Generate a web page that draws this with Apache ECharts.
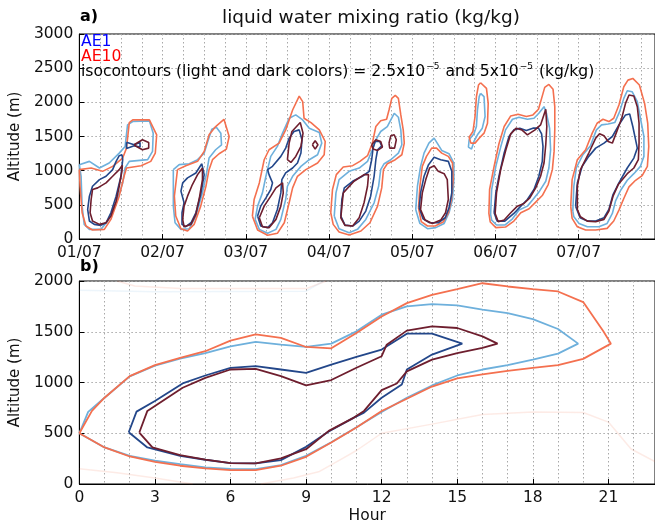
<!DOCTYPE html>
<html>
<head>
<meta charset="utf-8">
<script src="https://cdn.jsdelivr.net/npm/echarts@6/dist/echarts.min.js"></script>
<style>
html,body{margin:0;padding:0;background:#fff;}
#chart{width:655px;height:525px;}
</style>
</head>
<body>
<div id="chart"></div>
<script>
// ---------- tick labels ----------
var dayLabels = ['01/07','02/07','03/07','04/07','05/07','06/07','07/07'];
var hourLabels = ['0','3','6','9','12','15','18','21'];
var altLabels = ['0','500','1000','1500','2000','2500','3000'];

// ---------- top panel (x = hours since 01/07 00:00, y = altitude m) ----------
var topAE1Light = [
  [[0,1088],[2.9,1136],[5.8,1039],[8.6,1112],[11.5,1257],[13.2,1355],[13.9,1670],[15.4,1719],[20.2,1729],[21.3,1549],[21.1,1282],[19.7,1161],[14.4,1136],[13.2,1039],[12.5,821],[10.6,530],[8.2,263],[6.2,141],[2.9,141],[1.4,214],[0.8,481],[0.5,918]],
  [[27.1,1015],[28.8,1088],[31.7,1102],[34.1,1161],[36.0,1257],[37.2,1451],[38.2,1607],[39.5,1636],[40.8,1549],[41.0,1379],[39.3,1306],[37.4,1185],[36.7,966],[35.5,675],[33.6,336],[31.7,151],[29.3,141],[27.6,238],[27.1,481]],
  [[50.7,287],[51.4,481],[52.8,675],[53.8,918],[55.2,1209],[57.1,1355],[58.6,1549],[60.5,1767],[62.4,1816],[64.4,1743],[66.3,1622],[69.2,1558],[69.9,1403],[68.7,1233],[66.3,1160],[63.9,1063],[61.5,918],[60.0,772],[59.5,578],[58.1,287],[56.7,141],[54.3,83],[51.9,141]],
  [[73.5,335],[74.0,675],[74.9,869],[77.8,990],[80.7,1039],[83.1,1136],[84.5,1306],[85.5,1452],[86.9,1573],[88.8,1646],[90.8,1840],[92.0,1782],[92.7,1597],[93.0,1379],[92.0,1257],[89.8,1160],[87.9,1102],[86.9,1015],[86.3,772],[85.0,530],[82.6,287],[80.2,141],[77.8,93],[74.9,151]],
  [[97.0,432],[97.5,772],[98.4,1063],[99.4,1257],[100.8,1403],[102.3,1476],[103.2,1403],[104.5,1296],[106.6,1248],[108.0,1112],[108.0,869],[107.6,578],[106.6,384],[105.2,228],[102.8,166],[100.4,151],[98.2,228]],
  [[115.7,2131],[116.7,2083],[117.0,1792],[116.2,1622],[114.8,1525],[113.8,1427],[113.1,1316],[112.2,1345],[112.4,1452],[113.8,1539],[114.5,1646],[114.8,1888],[115.3,2083]],
  [[118.6,359],[118.9,724],[120.1,1063],[121.5,1345],[122.9,1597],[124.9,1752],[126.8,1782],[129.2,1752],[131.1,1767],[132.5,1840],[134.0,1937],[134.7,1840],[135.6,1622],[135.9,1306],[135.4,1039],[134.5,845],[132.7,700],[130.8,578],[129.2,481],[126.8,423],[124.9,296],[122.7,204],[120.3,204],[118.9,277]],
  [[142.3,408],[142.6,772],[143.3,1039],[145.2,1233],[147.4,1364],[149.1,1597],[150.6,1670],[152.5,1684],[154.4,1704],[155.8,1864],[157.0,2058],[158.0,2170],[159.4,2155],[160.9,2010],[161.8,1767],[162.8,1500],[162.8,1209],[161.8,1063],[159.9,956],[158.0,859],[156.1,713],[154.6,553],[153.7,374],[152.2,228],[149.8,180],[146.5,180],[144.1,228],[142.6,325]]
];
var topAE10Light = [
  [[0,1015],[3.4,1039],[6.7,990],[9.6,1063],[12.5,1185],[13.6,1330],[14.4,1704],[15.4,1743],[20.2,1743],[22.3,1525],[21.9,1257],[20.6,1136],[17.8,1073],[13.6,1039],[12.9,918],[11.5,627],[9.1,287],[7.2,141],[3.8,132],[1.9,190],[0.8,384],[0.2,772]],
  [[28.3,1015],[30.7,1073],[34.1,1136],[36.0,1282],[37.4,1524],[39.3,1646],[41.7,1752],[43.2,1500],[42.4,1316],[40.3,1248],[38.4,1161],[37.4,1015],[36.5,772],[35.0,481],[33.1,214],[31.2,117],[29.3,151],[27.8,336],[27.4,627]],
  [[49.9,335],[50.4,578],[51.9,821],[53.3,1160],[54.7,1306],[57.6,1403],[59.5,1597],[61.5,1888],[63.4,2092],[64.4,2010],[64.8,1767],[66.8,1704],[69.2,1597],[70.9,1427],[70.6,1233],[68.7,1112],[65.3,1015],[62.9,918],[61.5,748],[60.5,530],[59.1,238],[57.1,83],[54.3,54],[51.4,132]],
  [[72.5,384],[73.0,724],[74.1,942],[76.1,1053],[78.8,1073],[80.9,1136],[83.1,1219],[84.5,1403],[85.5,1646],[86.9,1729],[88.6,1752],[89.3,1888],[90.1,2058],[91.1,2102],[92.0,2058],[92.7,1816],[93.4,1597],[93.7,1403],[93.0,1233],[91.1,1160],[88.8,1102],[87.7,1015],[87.2,748],[86.0,481],[83.8,238],[81.2,117],[77.8,58],[74.9,102],[73.2,214]],
  [[97.8,456],[98.2,772],[98.9,1063],[100.1,1209],[101.6,1330],[103.0,1330],[104.5,1257],[106.4,1209],[107.6,1112],[107.8,869],[107.3,578],[106.4,384],[104.9,248],[102.6,190],[100.4,190],[98.6,253]],
  [[115.7,2287],[117.4,2204],[117.9,1986],[117.7,1694],[116.7,1549],[115.3,1476],[114.1,1403],[112.9,1403],[112.4,1490],[113.5,1573],[114.1,1792],[114.5,2083],[115.1,2253]],
  [[118.1,374],[118.3,724],[119.6,1063],[121.0,1394],[122.5,1646],[124.4,1801],[126.5,1825],[128.9,1792],[130.8,1816],[132.4,1898],[133.3,2058],[134.2,2219],[135.4,2262],[136.6,2190],[137.1,1937],[137.1,1598],[136.9,1282],[136.4,1015],[135.2,797],[133.5,636],[131.6,539],[129.7,442],[127.3,384],[125.3,262],[122.9,175],[120.1,166],[118.5,248]],
  [[141.7,481],[142.1,869],[143.6,1160],[146.0,1306],[147.9,1549],[149.3,1694],[151.0,1752],[152.7,1718],[154.1,1767],[155.6,1961],[157.0,2228],[158.2,2325],[159.6,2350],[161.5,2253],[163.0,1985],[163.9,1694],[164.2,1354],[163.8,1063],[162.3,927],[160.4,859],[158.5,762],[157.0,592],[155.6,423],[154.1,263],[152.2,156],[148.9,131],[146.0,131],[143.6,180],[142.1,301]]
];
var topAE1Dark = [
  [[6.2,200],[7.7,238],[9.1,384],[10.6,627],[12.0,918],[12.5,1161],[12.3,1233],[11.5,1219],[10.6,1136],[9.6,1015],[7.7,918],[5.8,869],[3.8,772],[2.9,627],[2.4,433],[2.9,263],[4.3,214]],
  [[13.6,1417],[15.8,1379],[17.5,1413],[17.5,1345],[15.8,1364],[13.6,1325]],
  [[35.3,1102],[33.6,966],[31.2,894],[29.8,821],[29.3,700],[30.2,530],[29.6,384],[29.6,214],[30.7,180],[32.2,238],[33.6,384],[35.0,651],[36.0,942]],
  [[51.4,335],[52.3,481],[53.8,602],[55.2,724],[55.7,821],[54.7,942],[54.3,1015],[55.7,1063],[58.1,1209],[59.5,1330],[60.5,1476],[61.9,1573],[63.4,1597],[64.2,1452],[63.9,1258],[62.9,1112],[61.5,1039],[59.5,967],[58.4,869],[58.1,675],[57.1,432],[55.7,238],[54.3,166],[52.3,190]],
  [[75.4,335],[75.7,578],[76.4,748],[78.8,845],[81.6,918],[83.6,990],[84.3,1160],[84.7,1330],[85.3,1427],[86.6,1427],[87.2,1364],[86.0,1306],[85.5,1160],[85.0,918],[84.0,627],[82.6,408],[80.7,262],[78.8,190],[76.6,204]],
  [[98.0,456],[98.4,675],[99.4,918],[100.7,1088],[102.3,1195],[104.2,1160],[106.4,1136],[107.4,990],[107.4,675],[106.6,456],[105.5,311],[103.5,238],[101.0,238],[99.1,296]],
  [[119.6,384],[120.1,675],[121.0,918],[122.5,1258],[123.9,1500],[125.3,1597],[127.0,1622],[128.9,1587],[130.8,1622],[132.4,1622],[133.3,1539],[133.7,1355],[133.5,1136],[132.5,918],[131.1,724],[129.2,578],[127.3,481],[125.3,374],[122.7,262],[120.5,262]],
  [[143.1,481],[143.6,820],[145.0,1063],[146.9,1209],[148.9,1330],[151.3,1403],[153.7,1500],[155.6,1670],[157.5,1816],[158.7,1830],[159.6,1646],[160.6,1403],[160.9,1330],[159.9,1184],[158.0,1039],[155.6,820],[153.9,651],[152.7,432],[151.3,311],[148.9,262],[146.5,262],[144.4,311]]
];
var topAE10Dark = [
  [[12.4,1080],[11.5,1015],[9.6,918],[7.7,821],[5.3,748],[3.8,724],[3.4,578],[3.1,384],[3.8,263],[5.8,214],[7.7,238],[9.1,335],[10.6,554],[11.5,772],[12.3,1000]],
  [[15.8,1379],[18.2,1452],[20.0,1413],[20.0,1330],[18.2,1306],[16.1,1364]],
  [[35.5,1039],[34.1,942],[32.6,797],[31.2,627],[30.2,481],[29.8,287],[30.2,180],[32.2,214],[33.6,360],[34.7,627],[35.5,869]],
  [[51.9,311],[53.3,481],[55.2,627],[56.7,748],[58.6,821],[58.8,675],[58.1,481],[56.7,287],[54.7,166],[52.8,180]],
  [[60.0,1160],[60.5,1403],[61.3,1573],[63.7,1704],[64.5,1549],[63.9,1355],[62.4,1209],[61.0,1121]],
  [[67.2,1379],[68.0,1437],[68.8,1379],[68.0,1316]],
  [[76.1,675],[79.2,845],[82.1,942],[83.4,942],[83.1,772],[82.1,530],[80.7,311],[78.8,190],[76.6,199],[75.4,311]],
  [[84.3,1379],[85.5,1452],[86.9,1427],[87.4,1345],[86.0,1296],[84.7,1316]],
  [[89.3,1403],[89.8,1510],[90.8,1525],[91.4,1452],[90.9,1330],[89.5,1330]],
  [[98.4,432],[98.9,675],[99.9,869],[101.0,1039],[102.3,1073],[103.5,990],[105.2,956],[106.1,869],[106.4,578],[105.6,384],[104.2,277],[101.8,228],[99.7,277]],
  [[119.9,374],[120.3,675],[121.5,1015],[123.0,1306],[124.4,1539],[126.0,1622],[127.6,1597],[129.2,1524],[131.4,1597],[133.0,1670],[134.5,1898],[134.8,1646],[134.5,1379],[134.0,1112],[133.0,918],[131.6,748],[129.9,602],[128.2,519],[126.3,481],[124.4,384],[122.5,277],[120.8,253]],
  [[143.6,432],[143.6,772],[144.5,1015],[146.9,1258],[148.9,1476],[150.0,1539],[151.3,1510],[152.5,1427],[153.7,1403],[154.8,1549],[156.4,1767],[157.5,1985],[158.5,2107],[159.9,2092],[160.9,1937],[161.4,1694],[161.4,1403],[161.2,1160],[159.9,1039],[158.0,956],[155.4,796],[153.9,626],[152.7,408],[151.3,287],[148.9,253],[146.5,262],[144.5,325]]
];

// ---------- bottom panel (x = hour, y = altitude m) ----------
var botAE10Light = [[0,500],[0.5,720],[1,850],[2,1063],[3,1171],[4,1243],[5,1308],[6,1413],[7,1475],[8,1439],[9,1350],[10,1337],[11,1488],[12,1651],[13,1782],[14,1864],[15,1920],[16,1978],[17,1946],[18,1920],[19,1897],[20,1792],[20.8,1504],[21.1,1383],[20,1233],[19,1171],[18,1145],[17,1115],[16,1080],[15,1040],[14,960],[13,840],[12,719],[11,556],[10,409],[9,268],[8,180],[7,137],[6,137],[5,154],[4,180],[3,219],[2,271],[1,360]];
var botAE1Light = [[0,500],[0.35,710],[1,850],[2,1060],[3,1165],[4,1235],[5,1290],[6,1357],[7,1400],[8,1373],[9,1350],[10,1383],[11,1504],[12,1668],[13,1750],[14,1772],[15,1760],[16,1717],[17,1684],[18,1625],[19,1527],[19.8,1383],[19,1285],[18,1226],[17,1171],[16,1128],[15,1069],[14,971],[13,850],[12,710],[11,560],[10,412],[9,278],[8,186],[7,147],[6,150],[5,164],[4,196],[3,229],[2,278],[1,360]];
var botAE1Dark = [[1.96,510],[2.27,713],[3,818],[4.1,991],[5,1069],[6,1145],[7,1161],[8,1128],[9,1095],[10,1177],[11,1252],[12,1324],[13,1481],[14,1481],[15.2,1383],[14,1275],[13,1128],[12.8,981],[12,850],[11.3,703],[10.9,654],[9.9,517],[9,366],[8,235],[7,203],[6,206],[5,239],[4,278],[2.7,360]];
var botAE10Dark = [[2.38,507],[2.7,720],[4.1,948],[5,1046],[6,1128],[7,1135],[8,1063],[9,971],[10,1024],[11,1145],[12,1259],[12.2,1373],[13,1511],[14,1553],[15,1537],[16,1455],[16.6,1383],[16,1341],[15,1290],[14,1226],[13,1110],[12.6,990],[12,925],[11.3,720],[10.9,654],[9.9,523],[9,343],[8,252],[7,203],[6,206],[5,240],[4,285],[2.9,360]];
var botFaintRed = [[1.5,2000],[2.2,1950],[4,1925],[9,1925],[9.8,2000]];
var botFaintBlue = [[0,1910],[3,1895],[9,1900],[9.7,2000]];
var botFaintLow = [[7.2,0],[8.5,60],[9.5,120],[10.4,245],[11,330],[12,500],[14,590],[16,685],[18,710],[20,705],[21,610],[21.9,345],[22.85,220]];
var botFaintLeft = [[0,150],[1.5,110],[3,60],[4.5,0]];

// ---------- styles ----------
var C_LB = '#6eb0dc', C_LR = '#f4704f', C_DB = '#23478a', C_DR = '#6e1e2e';
var FONT = 'DejaVu Sans';

function closeLoop(p){ return p.concat([p[0]]); }
function lineSeries(data, color, xi, width, opacity, closed){
  return {
    type:'line', xAxisIndex:xi, yAxisIndex:xi,
    data: closed ? closeLoop(data) : data,
    showSymbol:false, symbol:'none', silent:true, animation:false,
    lineStyle:{color:color, width:width, opacity:opacity},
    clip:true
  };
}

var series = [];
series.push(lineSeries(botFaintRed, C_LR, 1, 1.5, 0.15, false));
series.push(lineSeries(botFaintBlue, C_LB, 1, 1.5, 0.12, false));
series.push(lineSeries(botFaintLow, C_LR, 1, 1.5, 0.14, false));
series.push(lineSeries(botFaintLeft, C_LR, 1, 1.5, 0.14, false));
topAE1Light.forEach(function(p){ series.push(lineSeries(p, C_LB, 0, 1.6, 1, true)); });
topAE10Light.forEach(function(p){ series.push(lineSeries(p, C_LR, 0, 1.6, 1, true)); });
topAE1Dark.forEach(function(p){ series.push(lineSeries(p, C_DB, 0, 1.6, 1, true)); });
topAE10Dark.forEach(function(p){ series.push(lineSeries(p, C_DR, 0, 1.6, 1, true)); });
series.push(lineSeries(botAE1Light, C_LB, 1, 1.8, 1, true));
series.push(lineSeries(botAE10Light, C_LR, 1, 1.8, 1, true));
series.push(lineSeries(botAE1Dark, C_DB, 1, 1.8, 1, true));
series.push(lineSeries(botAE10Dark, C_DR, 1, 1.8, 1, true));

var dotStyle = {color:'#a8a8a8', type:[1.5,2.5], width:1};
var gridLine = {show:true, lineStyle:dotStyle};
var tick = {show:true, inside:true, length:5, lineStyle:{color:'#000'}};
var aLine = {show:true, lineStyle:{color:'#000', width:1}};
var lblBase = {color:'#111', fontFamily:FONT, fontSize:15.5};

var chart = echarts.init(document.getElementById('chart'), null, {renderer:'canvas'});
chart.setOption({
  backgroundColor:'#fff',
  animation:false,
  grid:[
    {left:79, top:34, right:-2, height:205, show:true, borderColor:'#000', borderWidth:1, containLabel:false},
    {left:79, top:281, right:-2, height:204, show:true, borderColor:'#000', borderWidth:1, containLabel:false}
  ],
  xAxis:[
    {gridIndex:0, type:'value', min:0, max:166, interval:24,
     axisLine:aLine, axisTick:tick, splitLine:gridLine,
     minorTick:{show:false, splitNumber:4},
     minorSplitLine:{show:true, lineStyle:dotStyle},
     axisLabel:Object.assign({}, lblBase, {margin:6, showMaxLabel:false,
       formatter:function(v){ return dayLabels[Math.round(v/24)] || ''; }})},
    {gridIndex:1, type:'value', min:0, max:22.85, interval:3,
     axisLine:aLine, axisTick:tick, splitLine:gridLine,
     minorTick:{show:false, splitNumber:3},
     minorSplitLine:{show:true, lineStyle:dotStyle},
     name:'Hour', nameLocation:'middle', nameGap:24,
     nameTextStyle:{color:'#111', fontFamily:FONT, fontSize:15.5},
     axisLabel:Object.assign({}, lblBase, {margin:6, showMaxLabel:false,
       formatter:function(v){ return hourLabels[Math.round(v/3)] || ''; }})}
  ],
  yAxis:[
    {gridIndex:0, type:'value', min:0, max:3000, interval:500,
     axisLine:aLine, axisTick:tick, splitLine:gridLine,
     axisLabel:Object.assign({}, lblBase, {margin:6,
       formatter:function(v){ return altLabels[Math.round(v/500)]; }}),
     name:'Altitude (m)', nameLocation:'middle', nameGap:43, nameRotate:90,
     nameTextStyle:{color:'#111', fontFamily:FONT, fontSize:15}},
    {gridIndex:1, type:'value', min:0, max:2000, interval:500,
     axisLine:aLine, axisTick:tick, splitLine:gridLine,
     axisLabel:Object.assign({}, lblBase, {margin:6,
       formatter:function(v){ return altLabels[Math.round(v/500)]; }}),
     name:'Altitude (m)', nameLocation:'middle', nameGap:43, nameRotate:90,
     nameTextStyle:{color:'#111', fontFamily:FONT, fontSize:15}}
  ],
  graphic:[
    {type:'text', left:80, top:9, style:{text:'a)', font:'bold 16px '+FONT, fill:'#000'}},
    {type:'text', left:80, top:259, style:{text:'b)', font:'bold 16px '+FONT, fill:'#000'}},
    {type:'text', x:371, y:18, style:{text:'liquid water mixing ratio (kg/kg)', font:'18.5px '+FONT, fill:'#111', align:'center', verticalAlign:'middle'}},
    {type:'text', x:81, y:42, z:100, style:{text:'AE1', font:'15.6px '+FONT, fill:'#0000ff', verticalAlign:'middle'}},
    {type:'text', x:81, y:57, z:100, style:{text:'AE10', font:'15.6px '+FONT, fill:'#ff0000', verticalAlign:'middle'}},
    {type:'text', x:81, y:71, z:100, style:{
      text:'{a|isocontours (light and dark colors) = 2.5x10}{s|\u22125}{a| and 5x10}{s|\u22125}{a| (kg/kg)}',
      verticalAlign:'middle',
      rich:{
        a:{font:'15.6px '+FONT, fill:'#000', lineHeight:17, verticalAlign:'bottom'},
        s:{font:'9px '+FONT, fill:'#000', lineHeight:17, verticalAlign:'top', padding:[0,1,0,1]}
      }}}
  ],
  series:series
});
</script>
</body>
</html>
